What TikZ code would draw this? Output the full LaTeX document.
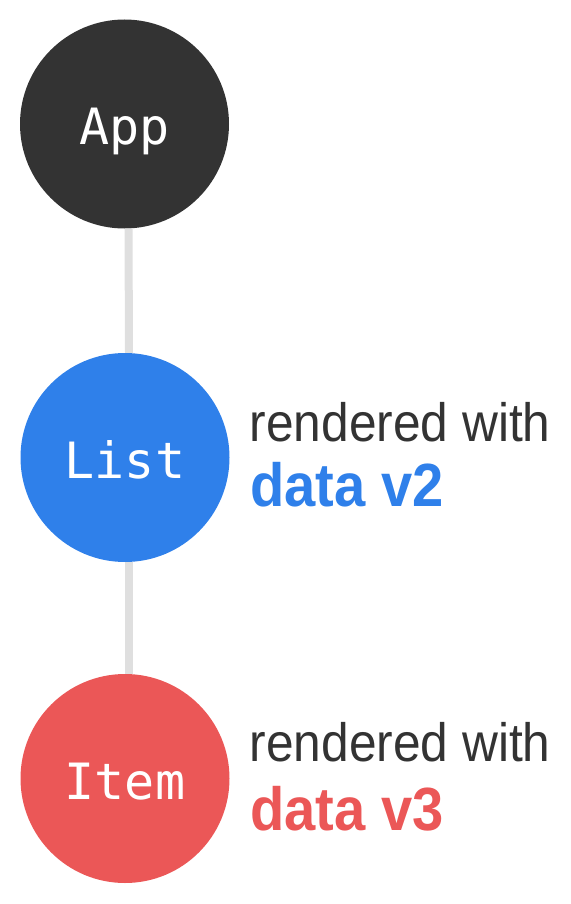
\documentclass[tikz,border=0pt]{standalone}
\usepackage{fontspec}
\setmainfont[FakeStretch=0.92]{Liberation Sans}
\newfontfamily\codefont{DejaVu Sans Mono}
\definecolor{appgray}{HTML}{333333}
\definecolor{listblue}{HTML}{2F80EA}
\definecolor{itemred}{HTML}{EB5757}
\definecolor{txtgray}{HTML}{333333}
\definecolor{conngray}{HTML}{DFDFDF}
\tikzset{
  bubble/.style={circle, minimum size=209pt, inner sep=0pt, text=white,
    font=\codefont\fontsize{50}{58}\selectfont, text height=42pt, text depth=0pt},
  conn/.style={draw=conngray, line width=8pt},
  plain/.style={anchor=base west, inner sep=0pt, text=txtgray,
    font=\fontsize{54}{60}\selectfont},
  strong/.style={anchor=base west, inner sep=0pt,
    font=\bfseries\fontsize{61}{66}\selectfont}
}
\begin{document}
\begin{tikzpicture}[x=1pt,y=-1pt]
\useasboundingbox (0,0) rectangle (570,904);
\node[bubble, fill=appgray] (app) at (124.5,124) {App};
\node[bubble, fill=listblue] (list) at (125,457.5) {List};
\node[bubble, fill=itemred] (item) at (125,778.5) {Item};
\draw[conn] ([xshift=4pt]app.south) -- ([xshift=4pt]list.north);
\draw[conn] ([xshift=4pt]list.south) -- ([xshift=4pt]item.north);
\node[plain] (r1) at (249.5,441.7) {rendered with};
\node[strong, text=listblue] (d1) at (250,506.7) {data v2};
\node[plain] (r2) at (249.5,761.7) {rendered with};
\node[strong, text=itemred] (d2) at (250,830) {data v3};
\end{tikzpicture}
\end{document}
